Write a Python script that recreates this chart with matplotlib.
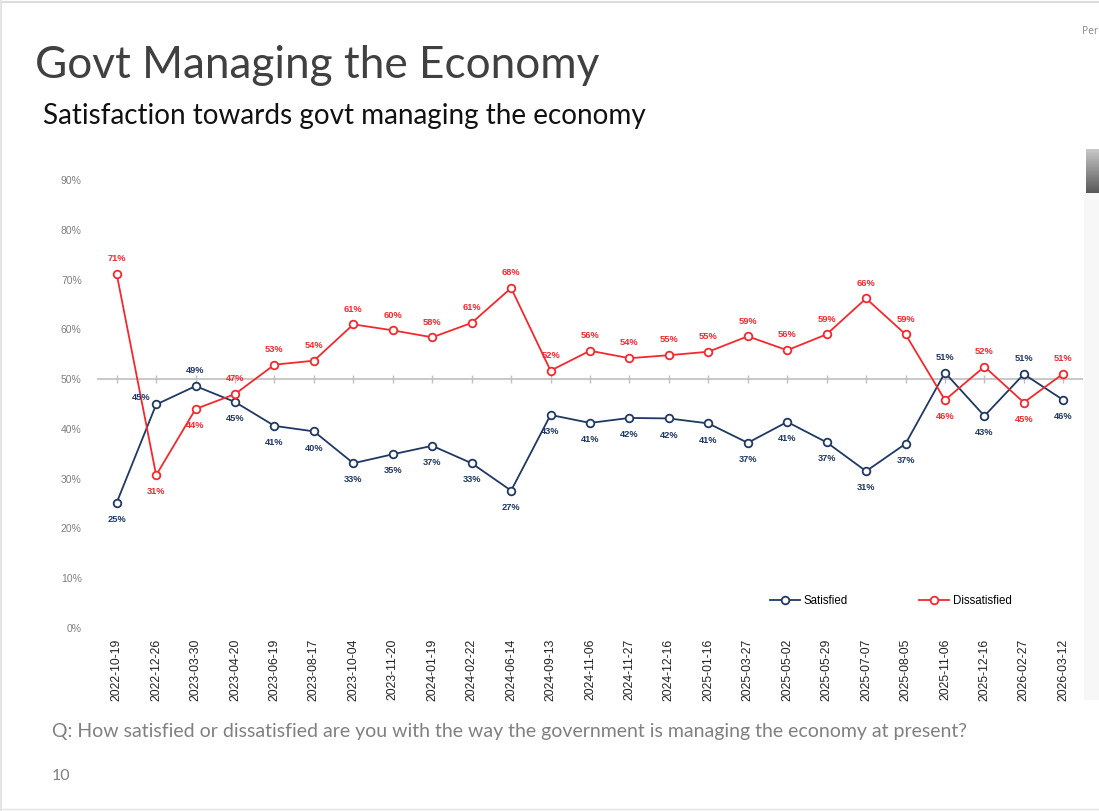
"""Govt managing the economy - satisfaction trend."""

import matplotlib.pyplot as plt
import numpy as np
from matplotlib.patches import Rectangle
from matplotlib.lines import Line2D

dates = [
    "2022-10-19", "2022-12-26", "2023-03-30", "2023-04-20", "2023-06-19",
    "2023-08-17", "2023-10-04", "2023-11-20", "2024-01-19", "2024-02-22",
    "2024-06-14", "2024-09-13", "2024-11-06", "2024-11-27", "2024-12-16",
    "2025-01-16", "2025-03-27", "2025-05-02", "2025-05-29", "2025-07-07",
    "2025-08-05", "2025-11-06", "2025-12-16", "2026-02-27", "2026-03-12",
]
satisfied = [25.2, 44.9, 48.6, 45.4, 40.6, 39.5, 33.1, 34.9, 36.6, 33.1,
             27.6, 42.8, 41.2, 42.2, 42.1, 41.1, 37.2, 41.4, 37.3, 31.5,
             37.0, 51.3, 42.6, 51.0, 45.8]
dissatisfied = [71.1, 30.7, 44.0, 47.0, 52.9, 53.7, 61.0, 59.8, 58.4, 61.3,
                68.3, 51.7, 55.7, 54.2, 54.8, 55.5, 58.6, 55.8, 59.0, 66.2,
                59.0, 45.8, 52.5, 45.3, 51.1]
sat_labels = [25, 45, 49, 45, 41, 40, 33, 35, 37, 33, 27, 43, 41, 42, 42, 41,
              37, 41, 37, 31, 37, 51, 43, 51, 46]
dis_labels = [71, 31, 44, 47, 53, 54, 61, 60, 58, 61, 68, 52, 56, 54, 55, 55,
              59, 56, 59, 66, 59, 46, 52, 45, 51]
y_ticks = [0, 10, 20, 30, 40, 50, 60, 70, 80, 90]

NAVY = "#1f3864"
RED = "#f5282d"
W, H = 1099, 811

fig = plt.figure(figsize=(W / 100, H / 100), dpi=100)
fig.patch.set_facecolor("white")

# slide frame
fig.add_artist(Line2D([0, 1], [1 - 2 / H, 1 - 2 / H], color="#dcdcdc", lw=1.5))
fig.add_artist(Line2D([1 / W, 1 / W], [0, 1], color="#e4e4e4", lw=1.5))
fig.add_artist(Line2D([0, 1], [2 / H, 2 / H], color="#e4e4e4", lw=1.0))

# right-hand slide decoration
fig.add_artist(Rectangle((1084 / W, 1 - 700 / H), 15 / W, 507 / H,
                         transform=fig.transFigure, color="#f7f7f7", lw=0))
gax = fig.add_axes([1086 / W, 1 - 193 / H, 13 / W, 44 / H])
grad = np.linspace(0.78, 0.35, 50)[:, None]
gax.imshow(grad, cmap="gray", vmin=0, vmax=1, aspect="auto")
gax.axis("off")

fig.text(1082 / W, 1 - 32 / H, "Per", fontsize=7.5, color="#8a8a8a",
         family="Open Sans", va="center", ha="left")

fig.text(35 / W, 1 - 65 / H, "Govt Managing the Economy", fontsize=31.8,
         color="#404040", family="Lato", va="center", ha="left")
fig.text(43 / W, 1 - 116 / H, "Satisfaction towards govt managing the economy",
         fontsize=20.1, color="#111111", family="Lato", va="center", ha="left")
fig.text(52 / W, 1 - 731 / H,
         "Q: How satisfied or dissatisfied are you with the way the government "
         "is managing the economy at present?",
         fontsize=14.05, color="#808080", family="Lato", va="center", ha="left")
fig.text(52 / W, 1 - 776 / H, "10", fontsize=11.5, color="#808080",
         family="Lato", va="center", ha="left")

ax = fig.add_axes([97 / W, 1 - 628 / H, 986 / W, 448 / H])
x = np.arange(len(dates))
ax.set_xlim(-0.5, len(dates) - 0.5)
ax.set_ylim(0, 90)
for s in ax.spines.values():
    s.set_visible(False)

ax.axhline(50, color="#bfbfbf", lw=1.2, zorder=1)
ax.scatter(x, [50] * len(x), marker="|", s=30, color="#bfbfbf", lw=1.0, zorder=1)

ax.set_yticks(y_ticks)
ax.set_yticklabels([f"{v}%" for v in y_ticks], fontsize=7.5, color="#7f7f7f",
                   family="Liberation Sans")
ax.tick_params(axis="y", length=0, pad=11)
ax.set_xticks(x)
ax.set_xticklabels(dates, rotation=90, fontsize=8.8, color="#222222",
                   family="Liberation Sans", va="top")
ax.tick_params(axis="x", length=0, pad=8)

ax.plot(x, satisfied, color=NAVY, lw=1.3, marker="o", ms=5.5,
        mfc="white", mec=NAVY, mew=1.3, label="Satisfied", zorder=3)
ax.plot(x, dissatisfied, color=RED, lw=1.3, marker="o", ms=5.5,
        mfc="white", mec=RED, mew=1.3, label="Dissatisfied", zorder=3)

for i in x:
    s, d = satisfied[i], dissatisfied[i]
    s_off = (0, 11) if s > d else (0, -12)
    d_off = (0, 11) if d > s else (0, -12)
    if i == 1:
        s_off = (-11, 5)
    ax.annotate(f"{sat_labels[i]}%", (i, s), xytext=s_off,
                textcoords="offset points", ha="center", va="center",
                fontsize=6.7, fontweight="bold", color=NAVY,
                family="Liberation Sans")
    ax.annotate(f"{dis_labels[i]}%", (i, d), xytext=d_off,
                textcoords="offset points", ha="center", va="center",
                fontsize=6.7, fontweight="bold", color=RED,
                family="Liberation Sans")

ax.legend(loc="center left", bbox_to_anchor=(770 / W, 1 - 601 / H),
          bbox_transform=fig.transFigure, ncol=2, frameon=False,
          prop={"family": "Liberation Sans", "size": 8.3},
          handlelength=2.6, handletextpad=0.3, columnspacing=6.2,
          borderpad=0, borderaxespad=0)

fig.savefig("out.png", dpi=100)
